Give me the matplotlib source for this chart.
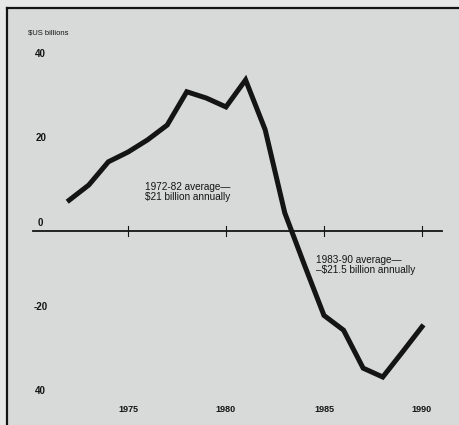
import matplotlib.pyplot as plt
from matplotlib.lines import Line2D

# net transfer, $US billions
years = list(range(1972, 1991))
values = [7.3, 10.9, 16.4, 18.7, 21.6, 25.1, 33.0, 31.5, 29.4, 35.8, 24.0,
          4.3, -8.0, -20.0, -23.5, -32.5, -34.6, -28.7, -22.7]

y_ticks = [40, 20, 0, -20, -40]
y_tick_labels = ["40", "20", "0", "-20", "40"]
x_ticks = [1975, 1980, 1985, 1990]
x_tick_labels = ["1975", "1980", "1985", "1990"]

note_1 = "1972-82 average\u2014\n$21 billion annually"
note_2 = "1983-90 average\u2014\n\u2013$21.5 billion annually"
unit_label = "$US billions"

BG = "#d7dad8"
INK = "#141414"
FONT = "Liberation Sans"

fig = plt.figure(figsize=(4.59, 4.25), dpi=100)
fig.patch.set_facecolor("#e6e8e7")

# frame of the scanned box
fig.add_artist(plt.Rectangle((7 / 459, 0), 1, 1 - 8 / 425, transform=fig.transFigure,
                             facecolor=BG, edgecolor="none", zorder=0))
fig.add_artist(Line2D([7 / 459, 7 / 459], [0, 1 - 8 / 425], transform=fig.transFigure,
                      color=INK, lw=1.6))
fig.add_artist(Line2D([7 / 459, 1], [1 - 8 / 425, 1 - 8 / 425], transform=fig.transFigure,
                      color=INK, lw=1.6))

ax = fig.add_axes([0, 0, 1, 1])
ax.set_xlim(1968.47, 1991.89)
ax.set_ylim(-45.97, 54.74)
ax.axis("off")
ax.patch.set_alpha(0)

# zero line with year ticks
ax.plot([1970.15, 1991.0], [0, 0], color=INK, lw=1.3)
for x in x_ticks:
    ax.plot([x, x], [-1.2, 1.2], color=INK, lw=0.8)

ax.plot(years, values, color=INK, lw=3.6, solid_joinstyle="miter", zorder=3)

for v, lab in zip(y_ticks, y_tick_labels):
    ax.text(1970.55, v + 2.0, lab, ha="center", va="center", fontsize=7,
            family=FONT, color=INK, weight="bold")
for x, lab in zip(x_ticks, x_tick_labels):
    ax.text(x, -42.4, lab, ha="center", va="center", fontsize=6.5,
            family=FONT, color=INK, weight="bold")

ax.text(1969.9, 46.9, unit_label, ha="left", va="center", fontsize=5.5,
        family=FONT, color=INK)
ax.text(1975.85, 11.6, note_1, ha="left", va="top", fontsize=7.2,
        family=FONT, color=INK, linespacing=1.05)
ax.text(1984.6, -5.6, note_2, ha="left", va="top", fontsize=7.2,
        family=FONT, color=INK, linespacing=1.05)

fig.savefig("out.png", dpi=100, facecolor=fig.get_facecolor())
